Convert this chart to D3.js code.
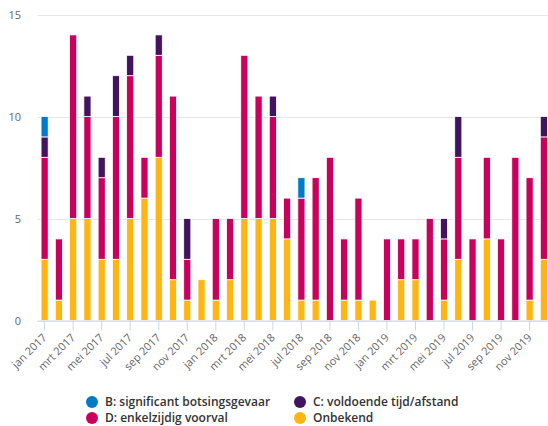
<!DOCTYPE html>
<html>
<head>
<meta charset="utf-8">
<script src="https://cdn.jsdelivr.net/npm/d3@7"></script>
<style>
  body { margin: 0; background: #fff; }
  text { font-family: "Open Sans", "Noto Sans", sans-serif; }
</style>
</head>
<body>
<div class="chart"></div>
<script>
var svgWidth = 548;
var svgHeight = 426;

// months jan 2017 - dec 2019
var monthNames = ["jan", "feb", "mrt", "apr", "mei", "jun", "jul", "aug", "sep", "okt", "nov", "dec"];
var years = [2017, 2018, 2019];
var months = [];
years.forEach(function (y) {
  monthNames.forEach(function (m) { months.push(m + " " + y); });
});

// series values per month
var onbekend = [3, 1, 5, 5, 3, 3, 5, 6, 8, 2, 1, 2,
                1, 2, 5, 5, 5, 4, 1, 1, 0, 1, 1, 1,
                0, 2, 2, 0, 1, 3, 0, 4, 0, 0, 1, 3];
var seriesD = [5, 3, 9, 5, 4, 7, 7, 2, 5, 9, 2, 0,
               4, 3, 8, 6, 5, 2, 5, 6, 8, 3, 5, 0,
               4, 2, 2, 5, 3, 5, 4, 4, 4, 8, 6, 6];
var seriesC = [1, 0, 0, 1, 1, 2, 1, 0, 1, 0, 2, 0,
               0, 0, 0, 0, 1, 0, 0, 0, 0, 0, 0, 0,
               0, 0, 0, 0, 1, 2, 0, 0, 0, 0, 0, 1];
var seriesB = [1, 0, 0, 0, 0, 0, 0, 0, 0, 0, 0, 0,
               0, 0, 0, 0, 0, 0, 1, 0, 0, 0, 0, 0,
               0, 0, 0, 0, 0, 0, 0, 0, 0, 0, 0, 0];

var yTicks = [0, 5, 10, 15];

// stacking order bottom -> top
var seriesKeys = ["onbekend", "D", "C", "B"];
var seriesColors = { onbekend: "#ffb612", D: "#ca005d", C: "#42145f", B: "#007bc7" };

// legend layout (reading order)
var legendItems = [
  { key: "B", label: "B: significant botsingsgevaar" },
  { key: "C", label: "C: voldoende tijd/afstand" },
  { key: "D", label: "D: enkelzijdig voorval" },
  { key: "onbekend", label: "Onbekend" }
];

var table = months.map(function (m, i) {
  return { month: m, onbekend: onbekend[i], D: seriesD[i], C: seriesC[i], B: seriesB[i] };
});

var plot = { left: 37.5, right: 551, top: 14.5, bottom: 320.5 };

var svg = d3.select(".chart")
  .append("svg")
  .attr("width", svgWidth)
  .attr("height", svgHeight);

var xScale = d3.scaleBand()
  .domain(months)
  .range([plot.left, plot.right])
  .paddingInner(0.5)
  .paddingOuter(0.25);

var yScale = d3.scaleLinear()
  .domain([0, 15])
  .range([plot.bottom, plot.top]);

// gridlines
svg.append("g")
  .selectAll("line")
  .data(yTicks)
  .enter().append("line")
  .attr("x1", plot.left)
  .attr("x2", svgWidth)
  .attr("y1", d => Math.round(yScale(d)) + 0.5)
  .attr("y2", d => Math.round(yScale(d)) + 0.5)
  .attr("stroke", "#e6e6e6")
  .attr("stroke-width", 1);

// y axis labels
var leftAxis = d3.axisLeft(yScale)
  .tickValues(yTicks)
  .tickSize(0)
  .tickPadding(0);

var yAxis = svg.append("g")
  .attr("transform", "translate(21,0)")
  .call(leftAxis);
yAxis.select(".domain").remove();
yAxis.selectAll("text")
  .attr("fill", "#666666")
  .attr("font-size", "11px")
  .style("font-family", "\"Open Sans\", sans-serif");

// stacked bars
var stack = d3.stack().keys(seriesKeys);
var stacked = stack(table);

var layers = svg.append("g")
  .selectAll("g")
  .data(stacked)
  .enter().append("g")
  .attr("fill", d => seriesColors[d.key]);

layers.selectAll("rect")
  .data(d => d.filter(p => p[1] - p[0] > 0))
  .enter().append("rect")
  .attr("x", d => xScale(d.data.month))
  .attr("width", xScale.bandwidth())
  .attr("y", d => yScale(d[1]))
  .attr("height", d => yScale(d[0]) - yScale(d[1]))
  .attr("stroke", "#ffffff")
  .attr("stroke-width", 0.8);

// x axis, label every other month
var tickMonths = months.filter((m, i) => i % 2 === 0);
var bottomAxis = d3.axisBottom(xScale)
  .tickValues(tickMonths)
  .tickSize(10)
  .tickSizeOuter(0);

var xAxis = svg.append("g")
  .attr("transform", "translate(0," + (plot.bottom) + ")")
  .call(bottomAxis);

xAxis.select(".domain")
  .attr("stroke", "#ccd6eb")
  .attr("d", "M" + plot.left + ",0.5H" + svgWidth);
xAxis.selectAll(".tick line")
  .attr("stroke", "#ccd6eb");
xAxis.selectAll(".tick text")
  .attr("fill", "#666666")
  .attr("font-size", "11px")
  .style("font-family", "\"Open Sans\", sans-serif")
  .attr("text-anchor", "end")
  .attr("x", 0)
  .attr("y", 0)
  .attr("dy", "0.35em")
  .attr("transform", "translate(0,15) rotate(-45)");

// legend
var legend = svg.append("g");
var legendPos = [[92, 402], [300, 402], [92, 418], [300, 418]];

legendItems.forEach(function (item, i) {
  var g = legend.append("g")
    .attr("transform", "translate(" + legendPos[i][0] + "," + legendPos[i][1] + ")");
  g.append("circle")
    .attr("r", 6)
    .attr("fill", seriesColors[item.key]);
  g.append("text")
    .attr("x", 13)
    .attr("dy", "0.35em")
    .attr("fill", "#333333")
    .attr("font-size", "12px")
    .attr("font-weight", 600)
    .text(item.label);
});
</script>
</body>
</html>
